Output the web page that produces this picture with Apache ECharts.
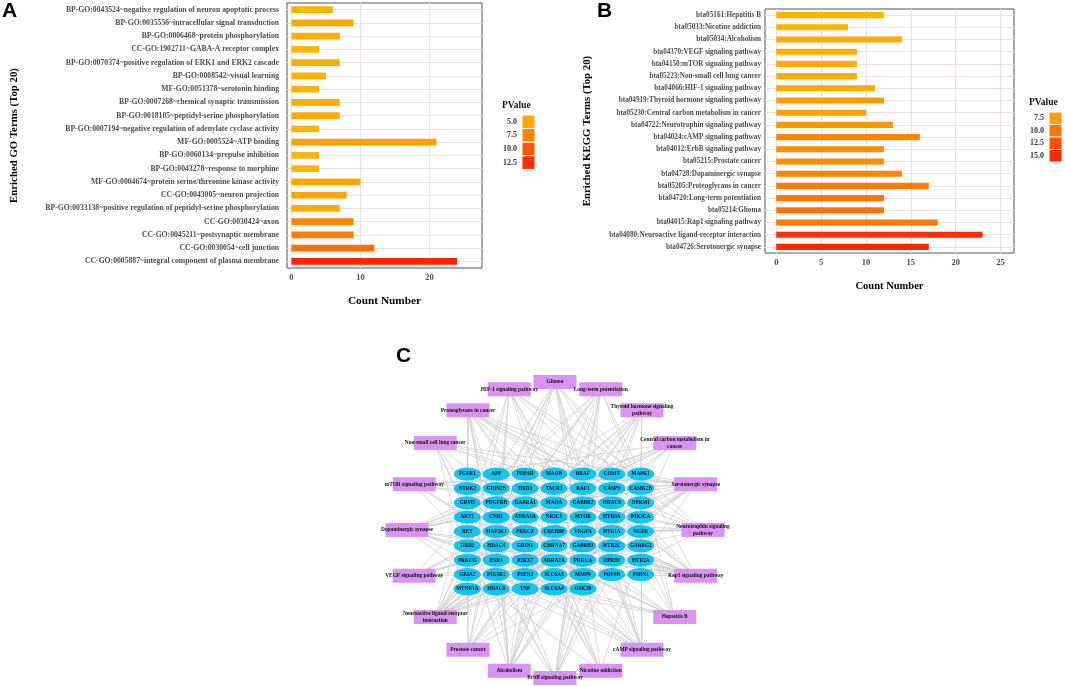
<!DOCTYPE html>
<html>
<head>
<meta charset="utf-8">
<script src="https://cdn.jsdelivr.net/npm/echarts@6/dist/echarts.min.js"></script>
<style>
  html, body { margin: 0; padding: 0; background: #fff; }
  #chart { width: 1065px; height: 686px; }
</style>
</head>
<body>
<div id="chart"></div>
<script>
// ---- panel A: GO terms (top to bottom) ----
const goTerms = [
  "BP-GO:0043524~negative regulation of neuron apoptotic process",
  "BP-GO:0035556~intracellular signal transduction",
  "BP-GO:0006468~protein phosphorylation",
  "CC-GO:1902711~GABA-A receptor complex",
  "BP-GO:0070374~positive regulation of ERK1 and ERK2 cascade",
  "BP-GO:0008542~visual learning",
  "MF-GO:0051378~serotonin binding",
  "BP-GO:0007268~chemical synaptic transmission",
  "BP-GO:0018105~peptidyl-serine phosphorylation",
  "BP-GO:0007194~negative regulation of adenylate cyclase activity",
  "MF-GO:0005524~ATP binding",
  "BP-GO:0060134~prepulse inhibition",
  "BP-GO:0043278~response to morphine",
  "MF-GO:0004674~protein serine/threonine kinase activity",
  "CC-GO:0043005~neuron projection",
  "BP-GO:0033138~positive regulation of peptidyl-serine phosphorylation",
  "CC-GO:0030424~axon",
  "CC-GO:0045211~postsynaptic membrane",
  "CC-GO:0030054~cell junction",
  "CC-GO:0005887~integral component of plasma membrane"
];
const goCounts = [6, 9, 7, 4, 7, 5, 4, 7, 7, 4, 21, 4, 4, 10, 8, 7, 9, 9, 12, 24];
const goPValue = [4.6, 5.2, 4.8, 4.5, 5.0, 4.7, 4.6, 4.9, 5.1, 4.5, 5.6, 4.6, 4.5, 5.4, 5.3, 5.0, 7.3, 7.6, 8.6, 13.0];
const goTicks = [0, 10, 20];
const goLegend = [5.0, 7.5, 10.0, 12.5];

// ---- panel B: KEGG terms (top to bottom) ----
const keggTerms = [
  "bta05161:Hepatitis B",
  "bta05033:Nicotine addiction",
  "bta05034:Alcoholism",
  "bta04370:VEGF signaling pathway",
  "bta04150:mTOR signaling pathway",
  "bta05223:Non-small cell lung cancer",
  "bta04066:HIF-1 signaling pathway",
  "bta04919:Thyroid hormone signaling pathway",
  "bta05230:Central carbon metabolism in cancer",
  "bta04722:Neurotrophin signaling pathway",
  "bta04024:cAMP signaling pathway",
  "bta04012:ErbB signaling pathway",
  "bta05215:Prostate cancer",
  "bta04728:Dopaminergic synapse",
  "bta05205:Proteoglycans in cancer",
  "bta04720:Long-term potentiation",
  "bta05214:Glioma",
  "bta04015:Rap1 signaling pathway",
  "bta04080:Neuroactive ligand-receptor interaction",
  "bta04726:Serotonergic synapse"
];
const keggCounts = [12, 8, 14, 9, 9, 9, 11, 12, 10, 13, 16, 12, 12, 14, 17, 12, 12, 18, 23, 17];
const keggPValue = [6.0, 6.1, 6.4, 6.3, 6.3, 6.4, 6.8, 7.6, 7.2, 7.8, 9.0, 8.4, 8.5, 9.0, 9.6, 10.0, 10.1, 9.8, 14.6, 15.2];
const keggTicks = [0, 5, 10, 15, 20, 25];
const keggLegend = [7.5, 10.0, 12.5, 15.0];

// ---- panel C: network ----
const genes = [
  "FGFR1", "APP", "PDE4D", "MAOB", "BRAF", "COMT", "MAPK1",
  "NTRK2", "GRIN2B", "DRD3", "TACR3", "RAF1", "CASP3", "CAMK2B",
  "GRM5", "PDGFRB", "GABRA1", "MAOA", "GABBR2", "HDAC6", "OPRM1",
  "AKT1", "CNR1", "ADRA1A", "NR3C1", "MTOR", "HTR3A", "PIK3CA",
  "RET", "MAP2K1", "PRKCZ", "CREBBP", "VEGFA", "HTR1A", "NGFR",
  "DRD2", "HDAC4", "GRIN1", "CHRNA7", "GABRB3", "HTR2C", "GABRG2",
  "PRKCG", "ESR1", "P2RX7", "ADRA2A", "PRKCA", "OPRD1", "HTR2A",
  "GRIA2", "PIK3R1", "PSEN2", "SLC6A3", "MMP9", "PDE4B", "PSEN1",
  "MTNR1A", "HDAC8", "TNF", "SLC6A4", "GSK3B"
];
// pathways in clockwise order starting from the top
const pathways = [
  "Glioma", "Long-term potentiation", "Thyroid hormone signaling pathway",
  "Central carbon metabolism in cancer", "Serotonergic synapse",
  "Neurotrophin signaling pathway", "Rap1 signaling pathway", "Hepatitis B",
  "cAMP signaling pathway", "Nicotine addiction", "ErbB signaling pathway",
  "Alcoholism", "Prostate cancer", "Neuroactive ligand-receptor interaction",
  "VEGF signaling pathway", "Dopaminergic synapse", "mTOR signaling pathway",
  "Non-small cell lung cancer", "Proteoglycans in cancer", "HIF-1 signaling pathway"
];
const pathwayGenes = {
  "Glioma": ["BRAF", "MAPK1", "RAF1", "CAMK2B", "PDGFRB", "AKT1", "MTOR", "PIK3CA", "MAP2K1", "PRKCG", "PRKCA", "PIK3R1"],
  "Long-term potentiation": ["BRAF", "MAPK1", "GRIN2B", "RAF1", "CAMK2B", "GRM5", "MAP2K1", "CREBBP", "GRIN1", "PRKCG", "PRKCA", "GRIA2"],
  "Thyroid hormone signaling pathway": ["MAPK1", "RAF1", "AKT1", "MTOR", "PIK3CA", "MAP2K1", "CREBBP", "ESR1", "PRKCG", "PRKCA", "PIK3R1", "GSK3B"],
  "Central carbon metabolism in cancer": ["FGFR1", "MAPK1", "RAF1", "PDGFRB", "AKT1", "MTOR", "PIK3CA", "RET", "MAP2K1", "PIK3R1"],
  "Serotonergic synapse": ["APP", "MAOB", "BRAF", "MAPK1", "RAF1", "CASP3", "MAOA", "HTR3A", "MAP2K1", "HTR1A", "HTR2C", "PRKCG", "PRKCA", "HTR2A", "SLC6A4", "SLC6A3", "COMT"],
  "Neurotrophin signaling pathway": ["BRAF", "MAPK1", "NTRK2", "RAF1", "CAMK2B", "AKT1", "PIK3CA", "MAP2K1", "PRKCZ", "CREBBP", "NGFR", "PIK3R1", "GSK3B"],
  "Rap1 signaling pathway": ["FGFR1", "BRAF", "MAPK1", "RAF1", "GRIN2B", "PDGFRB", "AKT1", "CNR1", "PIK3CA", "MAP2K1", "PRKCZ", "VEGFA", "NGFR", "DRD2", "GRIN1", "PRKCG", "PRKCA", "PIK3R1"],
  "Hepatitis B": ["MAPK1", "RAF1", "CASP3", "AKT1", "PIK3CA", "MAP2K1", "CREBBP", "PRKCG", "PRKCA", "MMP9", "PIK3R1", "TNF"],
  "cAMP signaling pathway": ["MAPK1", "PDE4D", "BRAF", "RAF1", "CAMK2B", "GRIN2B", "GABBR2", "AKT1", "HTR1A", "PIK3CA", "MAP2K1", "DRD2", "GRIN1", "GRIA2", "PIK3R1", "PDE4B"],
  "Nicotine addiction": ["GRIN2B", "GABRA1", "GRIN1", "CHRNA7", "GABRB3", "GABRG2", "GRIA2", "SLC6A3"],
  "ErbB signaling pathway": ["BRAF", "MAPK1", "RAF1", "CAMK2B", "AKT1", "MTOR", "PIK3CA", "MAP2K1", "PRKCG", "PRKCA", "PIK3R1", "GSK3B"],
  "Alcoholism": ["MAOB", "BRAF", "MAPK1", "GRIN2B", "RAF1", "CAMK2B", "MAOA", "HDAC6", "MAP2K1", "CREBBP", "DRD2", "HDAC4", "GRIN1", "HDAC8"],
  "Prostate cancer": ["FGFR1", "BRAF", "MAPK1", "RAF1", "PDGFRB", "AKT1", "MTOR", "PIK3CA", "MAP2K1", "CREBBP", "PIK3R1", "GSK3B"],
  "Neuroactive ligand-receptor interaction": ["GRIN2B", "DRD3", "TACR3", "GRM5", "GABRA1", "GABBR2", "OPRM1", "CNR1", "ADRA1A", "NR3C1", "HTR1A", "DRD2", "GRIN1", "CHRNA7", "GABRB3", "HTR2C", "GABRG2", "P2RX7", "ADRA2A", "OPRD1", "HTR2A", "GRIA2", "MTNR1A"],
  "VEGF signaling pathway": ["MAPK1", "RAF1", "AKT1", "PIK3CA", "MAP2K1", "VEGFA", "PRKCG", "PRKCA", "PIK3R1"],
  "Dopaminergic synapse": ["MAOB", "COMT", "GRIN2B", "DRD3", "CAMK2B", "MAOA", "AKT1", "DRD2", "GRIN1", "PRKCG", "PRKCA", "GRIA2", "SLC6A3", "GSK3B"],
  "mTOR signaling pathway": ["BRAF", "MAPK1", "RAF1", "AKT1", "MTOR", "PIK3CA", "MAP2K1", "PIK3R1", "GSK3B"],
  "Non-small cell lung cancer": ["BRAF", "MAPK1", "RAF1", "AKT1", "PIK3CA", "MAP2K1", "PRKCG", "PRKCA", "PIK3R1"],
  "Proteoglycans in cancer": ["FGFR1", "BRAF", "MAPK1", "RAF1", "CASP3", "CAMK2B", "AKT1", "MTOR", "PIK3CA", "MAP2K1", "VEGFA", "ESR1", "PRKCG", "PRKCA", "MMP9", "PIK3R1", "TNF"],
  "HIF-1 signaling pathway": ["MAPK1", "CAMK2B", "AKT1", "MTOR", "PIK3CA", "MAP2K1", "VEGFA", "CREBBP", "PRKCG", "PRKCA", "PIK3R1"]
};
const labelBreaks = {
  "Thyroid hormone signaling pathway": "Thyroid hormone signaling\npathway",
  "Central carbon metabolism in cancer": "Central carbon metabolism in\ncancer",
  "Neurotrophin signaling pathway": "Neurotrophin signaling\npathway",
  "Neuroactive ligand-receptor interaction": "Neuroactive ligand-receptor\ninteraction"
};

const SERIF = '"Liberation Serif", "Times New Roman", serif';
const SANS = '"Liberation Sans", Arial, sans-serif';

// fill colour from PValue, low = amber, high = red
function pColor(p, lo, hi) {
  const t = Math.max(0, Math.min(1, (p - lo) / (hi - lo)));
  return echarts.color.lerp(t, ["#ffb400", "#ff2000"]);
}
const goColor = p => pColor(p, 4.5, 13.2);
const keggColor = p => pColor(p, 6.0, 15.5);

function legendBlock(x, y, blockH, values, colorFn) {
  const els = [{
    type: "text", x: x - 20, y: y - 9,
    style: { text: "PValue", fill: "#111", font: "bold 9.5px " + SERIF, align: "left", verticalAlign: "middle" }
  }];
  values.forEach((v, i) => {
    els.push({
      type: "rect", shape: { x: x, y: y + i * blockH, width: 13, height: blockH },
      style: { fill: colorFn(v), stroke: "#fff", lineWidth: 1 }
    });
    els.push({
      type: "text", x: x - 5, y: y + i * blockH + blockH / 2,
      style: { text: v.toFixed(1), fill: "#333", font: "bold 8px " + SERIF, align: "right", verticalAlign: "middle" }
    });
  });
  return els;
}

// network node layout: genes in a 7-column grid, pathways on a ring
const ringCx = 555, ringCy = 530, ringR = 148;
const gridCx = 554, gridCy = 531.5, colStep = 28.9, rowStep = 14.35, nCols = 7;
const nodes = [];
genes.forEach((g, i) => {
  const row = Math.floor(i / nCols), col = i % nCols;
  nodes.push({
    name: g,
    x: gridCx + (col - 3) * colStep,
    y: gridCy + (row - 4) * rowStep,
    symbol: "circle",
    symbolSize: [27, 13],
    itemStyle: { color: "#14c3ef" },
    label: { fontSize: 5.2 }
  });
});
pathways.forEach((p, i) => {
  const a = (-90 + i * 360 / pathways.length) * Math.PI / 180;
  nodes.push({
    name: p,
    x: ringCx + ringR * Math.cos(a),
    y: ringCy + ringR * Math.sin(a),
    symbol: "rect",
    symbolSize: [43, 14],
    itemStyle: { color: "#da93f2" },
    label: { fontSize: 5.4, formatter: labelBreaks[p] || p, lineHeight: 6.5 }
  });
});
const links = [];
pathways.forEach(p => {
  pathwayGenes[p].forEach(g => links.push({ source: p, target: g }));
});

const yLabelStyle = (size, margin) => ({ fontSize: size, fontWeight: "bold", fontFamily: SERIF, color: "#4d4d4d", margin: margin });
const axisNameStyle = (size) => ({ fontSize: size, fontWeight: "bold", fontFamily: SERIF, color: "#000" });
const gridLine = { show: true, lineStyle: { color: "#f1dfdf", width: 1 } };

const option = {
  animation: false,
  backgroundColor: "#fff",
  title: [
    { text: "A", left: 2, top: 1, padding: 0, textStyle: { fontSize: 21, fontWeight: "bold", fontFamily: SANS, color: "#000" } },
    { text: "B", left: 597, top: 1, padding: 0, textStyle: { fontSize: 21, fontWeight: "bold", fontFamily: SANS, color: "#000" } },
    { text: "C", left: 396, top: 346, padding: 0, textStyle: { fontSize: 21, fontWeight: "bold", fontFamily: SANS, color: "#000" } }
  ],
  grid: [
    { left: 287, top: 3, width: 195, height: 265, show: true, borderColor: "#555", borderWidth: 1, outerBoundsMode: "none" },
    { left: 765, top: 9, width: 249, height: 244, show: true, borderColor: "#555", borderWidth: 1, outerBoundsMode: "none" }
  ],
  xAxis: [
    {
      type: "value", gridIndex: 0, min: -0.64, max: 27.6,
      axisLine: { show: false },
      axisTick: { customValues: goTicks, length: 3, lineStyle: { color: "#333" } },
      axisLabel: { customValues: goTicks, fontSize: 8.5, fontWeight: "bold", fontFamily: SERIF, color: "#4d4d4d", margin: 5 },
      splitLine: gridLine,
      name: "Count Number", nameLocation: "middle", nameGap: 28, nameTextStyle: axisNameStyle(11.3)
    },
    {
      type: "value", gridIndex: 1, min: -1.26, max: 26.5,
      axisLine: { show: false },
      axisTick: { customValues: keggTicks, length: 3, lineStyle: { color: "#333" } },
      axisLabel: { customValues: keggTicks, fontSize: 8.5, fontWeight: "bold", fontFamily: SERIF, color: "#4d4d4d", margin: 5 },
      splitLine: gridLine,
      name: "Count Number", nameLocation: "middle", nameGap: 28, nameTextStyle: axisNameStyle(10.5)
    }
  ],
  yAxis: [
    {
      type: "category", gridIndex: 0, data: goTerms, inverse: true,
      axisLine: { show: false },
      axisTick: { alignWithLabel: true, length: 3, lineStyle: { color: "#333" } },
      axisLabel: yLabelStyle(7.7, 8),
      splitLine: Object.assign({ alignWithLabel: true }, gridLine),
      name: "Enriched GO Terms (Top 20)", nameLocation: "middle", nameRotate: 90, nameGap: 267,
      nameTextStyle: axisNameStyle(10.8)
    },
    {
      type: "category", gridIndex: 1, data: keggTerms, inverse: true,
      axisLine: { show: false },
      axisTick: { alignWithLabel: true, length: 3, lineStyle: { color: "#333" } },
      axisLabel: yLabelStyle(7.2, 4),
      splitLine: Object.assign({ alignWithLabel: true }, gridLine),
      name: "Enriched KEGG Terms (Top 20)", nameLocation: "middle", nameRotate: 90, nameGap: 172,
      nameTextStyle: axisNameStyle(10.8)
    }
  ],
  series: [
    {
      type: "bar", xAxisIndex: 0, yAxisIndex: 0, barWidth: 6.6, silent: true,
      data: goCounts.map((v, i) => ({ value: v, itemStyle: { color: goColor(goPValue[i]) } }))
    },
    {
      type: "bar", xAxisIndex: 1, yAxisIndex: 1, barWidth: 6.1, silent: true,
      data: keggCounts.map((v, i) => ({ value: v, itemStyle: { color: keggColor(keggPValue[i]) } }))
    },
    {
      type: "graph", layout: "none", silent: true,
      left: ringCx - ringR, top: ringCy - ringR, width: 2 * ringR, height: 2 * ringR,
      data: nodes, links: links,
      lineStyle: { color: "#cbcbcb", width: 0.75, opacity: 0.95 },
      label: { show: true, position: "inside", fontWeight: "bold", fontFamily: SERIF, color: "#111" }
    }
  ],
  graphic: legendBlock(522, 115, 13.6, goLegend, goColor).concat(legendBlock(1049, 112, 12.5, keggLegend, keggColor))
};

const myChart = echarts.init(document.getElementById("chart"));
myChart.setOption(option);
window.addEventListener("resize", () => myChart.resize());
</script>
</body>
</html>
